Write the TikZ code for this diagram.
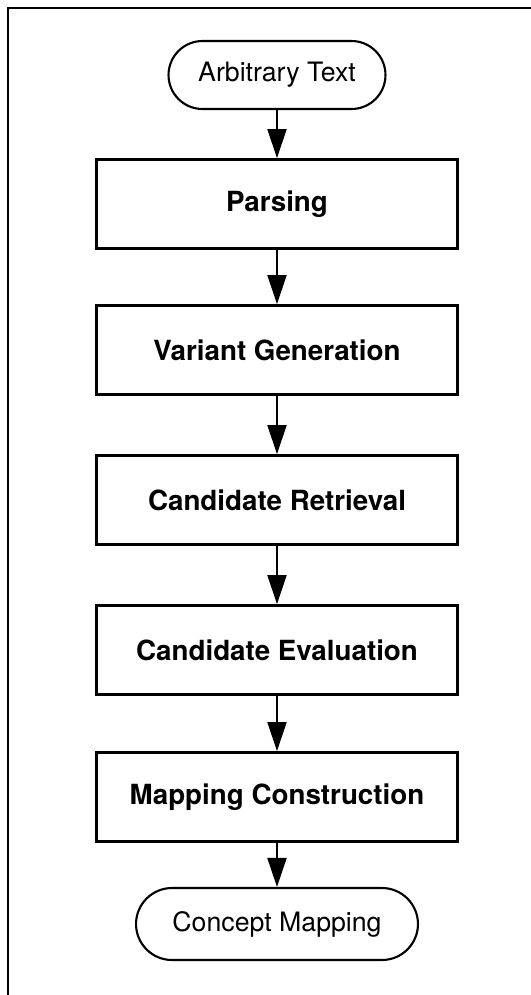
\documentclass[tikz,border=0pt]{standalone}
\usepackage{fontspec}
\setmainfont{TeX Gyre Heros}
\usetikzlibrary{arrows.meta}
\begin{document}
\begin{tikzpicture}[x=0.02cm, y=-0.02cm, font=\fontsize{15.2}{18}\selectfont,
  stage/.style={draw, line width=1.6pt, minimum width=7.22cm, minimum height=1.78cm, font=\fontsize{15.8}{19}\selectfont\bfseries},
  terminal/.style={draw, line width=1.2pt, rounded corners=0.68cm, minimum height=1.36cm},
  flow/.style={-{Triangle[length=5.8mm,width=3.8mm]}, line width=1.2pt}]
\useasboundingbox (0,0) rectangle (531,995);
\draw [line width=1.6pt] (531,8) -- (8,8) -- (8,995);

\node [terminal, minimum width=4.34cm] (text) at (277,75) {Arbitrary Text};
\node [stage] (parse) at (277,204) {Parsing};
\node [stage] (variant) at (277,350) {Variant Generation};
\node [stage] (retrieve) at (277,500) {Candidate Retrieval};
\node [stage] (evaluate) at (277,650) {Candidate Evaluation};
\node [stage] (construct) at (277,797) {Mapping Construction};
\node [terminal, minimum width=5.64cm, minimum height=1.44cm, rounded corners=0.72cm] (mapping) at (277,924) {Concept Mapping};

\draw [flow] (text) -- (parse);
\draw [flow] (parse) -- (variant);
\draw [flow] (variant) -- (retrieve);
\draw [flow] (retrieve) -- (evaluate);
\draw [flow] (evaluate) -- (construct);
\draw [flow] (construct) -- (mapping);
\end{tikzpicture}
\end{document}
